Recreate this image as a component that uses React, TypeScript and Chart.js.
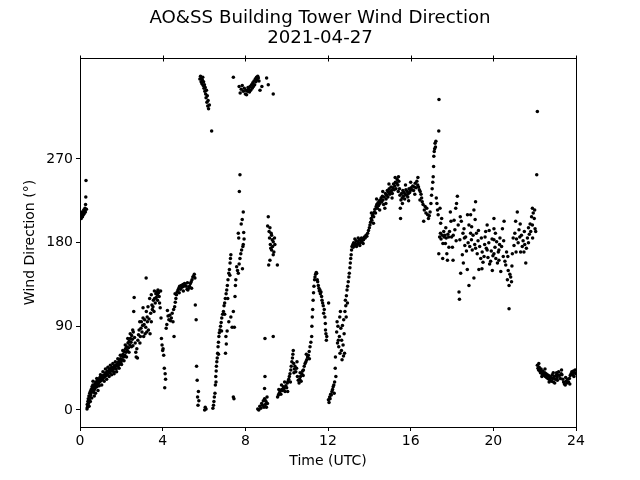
import React, { useEffect, useRef } from 'react';
import { Chart, registerables } from 'chart.js';

Chart.register(...registerables);

const titleLines = ['AO&SS Building Tower Wind Direction', '2021-04-27'];
const xAxisLabel = 'Time (UTC)';
const yAxisLabel = 'Wind Direction (°)';
const xTicks = [0, 4, 8, 12, 16, 20, 24];
const yTicks = [0, 90, 180, 270];

// [hour UTC, wind direction in degrees]
const block00to04 = [
  [0.02,207],[0.04,211],[0.06,206],[0.08,209],[0.1,213],[0.12,208],[0.14,212],[0.16,210],[0.18,215],[0.2,211],[0.22,214],[0.24,217],[0.26,213],[0.27,221],[0.28,229],[0.29,247],[0.31,216],
  [0.34,1],[0.35,6],[0.36,3],[0.38,9],[0.4,12],[0.41,7],[0.43,15],[0.45,11],[0.47,18],[0.48,14],[0.5,20],[0.52,16],[0.54,22],[0.56,19],[0.58,25],[0.6,21],[0.62,27],[0.64,23],[0.66,19],[0.68,26],[0.7,22],[0.72,28],[0.74,24],[0.76,30],[0.78,26],[0.8,29],[0.82,25],[0.84,31],[0.86,28],[0.88,33],[0.9,29],[0.92,32],[0.94,30],[0.96,35],[0.98,31],
  [1.0,34],[1.03,32],[1.06,36],[1.09,33],[1.12,37],[1.15,35],[1.18,38],[1.21,36],[1.24,40],[1.27,37],[1.3,39],[1.33,42],[1.36,38],[1.39,41],[1.42,44],[1.45,40],[1.48,43],[1.51,45],[1.54,42],[1.57,46],[1.6,44],[1.63,41],[1.66,47],[1.69,45],[1.72,48],[1.75,44],[1.78,49],[1.81,47],[1.84,51],[1.87,48],[1.9,53],[1.93,50],[1.96,55],[1.99,52],
  [2.02,58],[2.05,54],[2.08,60],[2.11,57],[2.14,63],[2.17,59],[2.2,66],[2.23,62],[2.26,68],[2.29,64],[2.32,72],[2.35,67],[2.38,74],[2.41,70],[2.44,77],[2.47,73],[2.5,80],[2.53,76],[2.56,69],[2.58,84],[2.6,106],[2.62,121],[2.64,78],[2.67,72],[2.7,62],[2.72,57],[2.75,66],[2.78,56],[2.8,75],[2.83,81],[2.86,86],[2.89,95],[2.92,79],[2.95,88],[2.97,95],
  [3.0,84],[3.03,91],[3.05,99],[3.08,79],[3.1,92],[3.13,97],[3.15,82],[3.18,89],[3.2,142],[3.21,106],[3.23,84],[3.26,95],[3.29,111],[3.31,86],[3.34,98],[3.37,120],[3.39,82],[3.42,104],[3.45,95],[3.48,113],[3.5,108],[3.53,111],[3.55,118],[3.58,106],[3.61,120],[3.64,115],[3.67,125],[3.69,121],[3.72,127],[3.75,124],[3.77,129],[3.8,126],[3.83,122],[3.85,115],[3.88,110],[3.92,99],[3.94,77],[3.97,70],
  [4.0,64],[4.02,66],[4.05,59],[4.08,45],[4.1,24],[4.12,39],[4.14,33],
  [0.44,4],[0.5,9],[0.57,13],[0.63,31],[0.69,15],[0.75,18],[0.81,34],[0.87,21],[0.93,26],[0.99,38],[1.05,27],[1.11,41],[1.17,31],[1.23,44],[1.29,33],[1.35,46],[1.41,36],[1.47,48],[1.53,38],[1.59,50],[1.65,39],[1.71,52],[1.77,41],[1.83,55],[1.89,45],[1.95,59],[2.01,49],[2.07,64],[2.13,53],[2.19,70],[2.25,57],[2.31,77],[2.37,62],[2.43,82],[2.49,68],[2.55,86],
  [2.9,72],[3.05,110],[3.25,100],[3.45,124],[3.6,128],[3.75,118],[3.9,128],
];

const block04to08 = [
  [4.17,88],[4.2,92],[4.23,107],[4.26,101],[4.3,97],[4.34,102],[4.38,96],[4.42,99],[4.46,104],[4.5,95],[4.53,108],[4.55,79],[4.58,111],[4.61,116],[4.64,120],[4.67,124],[4.7,127],[4.74,129],[4.78,131],[4.82,133],[4.86,130],[4.9,134],[4.94,132],[4.98,135],
  [5.02,133],[5.06,136],[5.1,134],[5.14,133],[5.18,130],[5.22,129],[5.26,131],[5.3,133],[5.34,136],[5.38,138],[5.42,140],[5.46,143],[5.5,144],[5.53,146],[5.56,142],[5.58,113],[5.62,97],[5.64,47],[5.67,32],[5.69,14],[5.71,5],[5.73,20],[5.75,10],
  [4.6,125],[4.8,126],[5.0,128],[5.2,137],[5.4,131],
  [5.8,356],[5.83,359],[5.86,353],[5.88,357],[5.9,351],[5.92,355],[5.94,358],[5.96,349],[5.98,353],[6.0,346],[6.02,350],[6.04,343],[6.06,347],[6.08,340],[6.1,336],[6.12,344],[6.14,331],[6.16,338],[6.18,327],[6.2,333],[6.22,324],[6.26,328],[6.37,300],
  [6.03,0],[6.06,3],[6.1,1],[6.43,2],[6.46,5],[6.48,9],
  [6.5,14],[6.53,18],[6.55,27],[6.57,36],[6.59,42],[6.6,47],[6.62,52],[6.64,56],[6.66,61],[6.68,68],[6.7,73],[6.72,79],[6.74,83],[6.77,86],[6.8,90],[6.83,94],[6.86,99],[6.9,103],[6.94,106],[6.97,112],
  [7.0,115],[7.03,120],[7.07,125],[7.1,129],[7.13,134],[7.16,140],[7.2,147],[7.23,151],[7.26,158],[7.28,163],[7.3,167],
  [6.58,30],[6.7,60],[6.85,85],[7.0,103],[7.15,120],[7.25,145],
  [7.04,61],[7.06,79],[7.08,71],[7.12,85],[7.2,95],[7.3,100],[7.36,89],[7.42,106],[7.42,14],[7.45,12],[7.47,89],[7.5,122],[7.52,134],[7.54,140],[7.58,154],[7.62,150],[7.66,147],[7.7,157],[7.74,163],[7.78,168],[7.82,172],[7.86,152],[7.88,176],[7.9,178],
  [7.66,190],[7.68,185],[7.71,235],[7.74,253],[7.8,200],[7.85,205],[7.9,213],[7.92,191],[7.94,184],[7.42,358],
  [7.7,348],[7.75,341],[7.8,345],[7.85,349],[7.9,343],[7.95,346],
];

const block08to12 = [
  [8.0,340],[8.03,344],[8.06,339],[8.1,343],[8.13,347],[8.16,345],[8.2,342],[8.23,348],[8.26,344],[8.3,350],[8.33,346],[8.36,352],[8.39,348],[8.42,354],[8.45,350],[8.48,356],[8.51,353],[8.54,358],[8.57,355],[8.6,359],[8.63,357],[8.66,354],[8.71,344],[8.8,348],[9.03,357],[9.11,350],[9.35,340],
  [8.6,1],[8.65,0],[8.7,4],[8.75,2],[8.79,7],[8.83,5],[8.87,10],[8.9,3],[8.93,12],[8.95,11],[8.97,6],[9.0,9],[9.02,3],[9.05,14],[9.07,7],[8.93,23],[8.95,36],[8.95,77],[9.35,79],
  [9.08,198],[9.11,208],[9.13,156],[9.15,192],[9.17,185],[9.19,196],[9.19,161],[9.21,178],[9.23,174],[9.25,190],[9.27,188],[9.27,172],[9.3,183],[9.32,176],[9.35,181],[9.35,167],[9.38,170],[9.41,185],[9.43,178],[9.55,156],
  [9.56,14],[9.6,16],[9.64,18],[9.68,20],[9.72,17],[9.76,22],[9.8,21],[9.84,25],[9.88,23],[9.92,20],[9.96,26],
  [10.0,24],[10.03,29],[10.07,31],[10.1,33],[10.13,36],[10.16,39],[10.2,43],[10.22,47],[10.25,52],[10.28,56],[10.3,60],[10.32,64],[10.34,50],[10.37,44],[10.4,47],[10.44,41],[10.48,45],[10.52,36],[10.56,32],[10.6,29],[10.63,33],[10.67,36],[10.7,31],[10.73,39],[10.77,42],[10.81,43],[10.85,47],[10.89,50],[10.93,52],[10.97,54],
  [9.62,22],[9.75,27],[9.9,30],[10.05,20],[10.18,30],[10.35,40],[10.5,52],[10.65,40],[10.8,37],[10.95,60],[11.1,55],
  [11.01,57],[11.05,59],[11.09,63],[11.13,68],[11.17,73],[11.21,79],[11.22,90],[11.24,100],[11.26,108],[11.28,118],[11.3,126],[11.32,133],[11.35,140],[11.37,143],[11.4,146],[11.43,148],[11.45,147],[11.48,140],[11.5,138],[11.53,134],[11.56,131],[11.58,128],[11.61,129],[11.63,125],[11.66,127],[11.69,122],[11.71,118],[11.74,115],[11.77,112],[11.79,104],[11.82,108],[11.85,100],[11.87,93],[11.88,86],[11.9,82],[11.92,75],[11.94,79],
];

const block12to16 = [
  [12.03,115],[12.02,11],[12.05,8],[12.08,14],[12.1,12],[12.13,17],[12.16,16],[12.19,20],[12.22,22],[12.25,25],[12.28,27],[12.32,30],[12.35,45],[12.36,57],[12.38,36],[12.42,84],[12.44,95],[12.46,72],[12.5,75],[12.52,68],[12.55,79],[12.58,61],[12.6,106],[12.62,88],[12.65,64],[12.68,54],[12.7,91],[12.73,70],[12.76,97],[12.78,82],[12.8,61],[12.82,106],[12.84,118],[12.86,112],[12.89,123],[12.92,129],[12.95,133],[12.98,138],
  [12.3,18],[12.48,90],[12.57,100],[12.66,75],[12.75,58],[12.88,100],[12.94,115],
  [13.01,143],[13.03,147],[13.06,153],[13.08,158],[13.1,163],[13.12,167],[13.14,172],[13.16,176],[13.2,178],[13.24,180],[13.28,177],[13.32,179],[13.36,182],[13.4,178],[13.44,181],[13.48,179],[13.52,183],[13.56,180],[13.6,182],[13.64,181],[13.68,184],[13.72,183],[13.76,186],[13.8,185],[13.84,188],[13.88,187],[13.92,190],[13.96,193],
  [13.22,175],[13.3,184],[13.38,176],[13.46,185],[13.54,177],[13.62,185],[13.7,179],
  [14.0,196],[14.03,199],[14.06,202],[14.09,206],[14.12,204],[14.15,209],[14.18,211],[14.21,208],[14.24,213],[14.27,216],[14.3,212],[14.33,219],[14.36,221],[14.39,217],[14.42,223],[14.45,220],[14.48,225],[14.51,222],[14.54,226],[14.57,228],[14.6,224],[14.63,230],[14.66,226],[14.69,221],[14.72,229],[14.75,217],[14.78,233],[14.81,227],[14.84,231],[14.87,236],[14.9,229],[14.93,234],[14.96,238],[14.99,232],
  [15.02,235],[15.05,240],[15.08,236],[15.11,233],[15.14,239],[15.17,243],[15.2,237],[15.23,241],[15.26,245],[15.29,238],[15.32,244],[15.35,248],[15.38,242],[15.41,251],[15.43,246],[15.46,238],[15.48,231],[15.5,217],[15.51,206],[15.53,226],[15.56,233],[15.59,228],[15.62,236],[15.65,230],[15.68,234],[15.71,227],[15.74,232],[15.77,237],[15.8,231],[15.83,235],[15.86,229],[15.89,233],[15.92,238],[15.95,234],[15.98,236],
  [14.1,212],[14.2,201],[14.35,227],[14.5,215],[14.65,235],[14.8,222],[14.95,243],[15.1,228],[15.25,250],[15.4,235],[15.6,222],[15.75,242],[15.9,225],
];

const block16to20 = [
  [16.02,239],[16.06,237],[16.1,241],[16.14,236],[16.18,240],[16.22,244],[16.26,239],[16.3,246],[16.34,242],[16.38,240],[16.42,237],[16.46,235],[16.5,232],[16.53,228],[16.56,224],[16.6,221],[16.63,203],[16.66,215],[16.7,219],[16.74,212],[16.78,217],[16.82,210],[16.86,206],[16.9,209],[16.94,213],[16.98,222],
  [16.0,245],[16.2,232],[16.35,250],[16.45,226],
  [17.01,231],[17.04,238],[17.07,245],[17.09,251],[17.11,262],[17.12,273],[17.14,278],[17.16,281],[17.18,287],[17.2,283],[17.22,289],[17.24,228],[17.27,222],[17.3,215],[17.33,210],[17.36,300],[17.37,334],[17.36,168],[17.4,186],[17.42,217],[17.44,190],[17.47,184],[17.5,206],[17.53,188],[17.56,179],[17.6,192],[17.62,186],[17.65,188],[17.68,179],[17.72,185],[17.75,168],[17.78,161],[17.8,189],[17.84,186],[17.88,192],[17.92,213],[17.95,203],[17.98,186],
  [18.02,175],[18.06,188],[18.1,204],[18.14,194],[18.18,217],[18.22,222],[18.26,230],[18.3,199],[18.34,127],[18.36,119],[18.38,183],[18.42,147],[18.45,203],[18.5,167],[18.53,190],[18.58,195],[18.6,185],[18.62,177],[18.66,186],[18.7,171],[18.74,151],[18.78,180],[18.82,134],[18.82,199],[18.86,176],[18.9,210],[18.9,190],[18.94,183],[18.98,172],
  [19.02,188],[19.06,142],[19.06,215],[19.1,178],[19.14,224],[19.14,174],[19.18,190],[19.22,168],[19.26,182],[19.3,151],[19.34,176],[19.39,163],[19.42,185],[19.46,170],[19.5,159],[19.55,165],[19.58,178],[19.63,192],[19.66,174],[19.7,199],[19.7,172],[19.74,164],[19.78,180],[19.82,157],[19.87,160],[19.9,171],[19.94,184],[19.98,166],
  [17.45,201],[17.55,163],[17.7,196],[17.85,175],[18.05,161],[18.2,182],[18.4,208],[18.55,158],[18.75,210],[18.95,197],[19.12,205],[19.28,193],[19.45,152],[19.6,186],[19.8,193],[19.95,150],
];

const block20to24 = [
  [20.03,206],[20.03,195],[20.03,183],[20.03,168],[20.08,175],[20.12,163],[20.16,181],[20.2,158],[20.24,170],[20.27,172],[20.27,161],[20.32,185],[20.36,149],[20.4,176],[20.44,195],[20.48,165],[20.52,203],[20.56,160],[20.6,156],[20.64,170],[20.68,140],[20.72,150],[20.76,134],[20.76,109],[20.8,146],[20.84,143],[20.88,138],[20.92,168],[20.96,185],
  [21.0,177],[21.04,190],[21.08,203],[21.12,184],[21.16,213],[21.2,180],[21.24,194],[21.28,186],[21.32,170],[21.36,188],[21.4,176],[21.44,182],[21.48,170],[21.52,178],[21.57,158],[21.6,174],[21.65,185],[21.7,196],[21.74,189],[21.78,200],[21.81,192],[21.85,208],[21.89,217],[21.89,199],[21.93,212],[21.98,206],
  [20.1,190],[20.3,178],[20.5,182],[20.7,165],[20.9,155],[21.1,170],[21.3,200],[21.5,192],[21.7,180],[21.9,185],[22.0,215],
  [22.02,195],[22.05,192],[22.1,253],[22.13,321],
  [22.13,48],[22.16,45],[22.19,43],[22.22,46],[22.25,42],[22.28,40],[22.31,44],[22.34,41],[22.37,38],[22.4,42],[22.43,39],[22.46,37],[22.49,40],[22.52,36],[22.55,39],[22.58,35],[22.61,38],[22.64,34],[22.67,37],[22.7,33],[22.73,36],[22.76,32],[22.79,35],[22.82,31],[22.85,38],[22.88,34],[22.91,30],[22.94,36],[22.97,29],
  [23.0,33],[23.03,37],[23.06,40],[23.09,35],[23.12,38],[23.16,41],[23.2,37],[23.24,34],[23.28,39],[23.32,38],[23.36,33],[23.4,30],[23.44,28],[23.48,27],[23.52,31],[23.56,29],[23.6,33],[23.64,30],[23.68,34],[23.72,37],[23.76,39],[23.8,41],[23.84,38],[23.88,42],[23.92,40],[23.96,43],[23.99,39],
  [22.2,50],[22.35,36],[22.5,44],[22.7,30],[22.9,40],[23.1,32],[23.3,43],[23.5,35],[23.7,28],[23.9,36],
];

const allBlocks = [block00to04, block04to08, block08to12, block12to16, block16to20, block20to24];

const FONT = 'DejaVu Sans';

export default function App() {
  const canvasRef = useRef<HTMLCanvasElement | null>(null);

  useEffect(() => {
    const canvas = canvasRef.current;
    if (!canvas) return;

    const points = allBlocks.flat().map(([t, d]) => ({ x: t, y: d }));

    const topFrame = {
      id: 'topFrame',
      afterDraw(chart: any) {
        const { ctx, chartArea, scales } = chart;
        ctx.save();
        ctx.strokeStyle = '#000';
        ctx.lineWidth = 1;
        ctx.beginPath();
        const ty = Math.round(chartArea.top) + 0.5;
        ctx.moveTo(chartArea.left, ty);
        ctx.lineTo(chartArea.right, ty);
        for (const v of xTicks) {
          const px = Math.round(scales.x.getPixelForValue(v)) + 0.5;
          ctx.moveTo(px, ty - 3);
          ctx.lineTo(px, ty + 3);
        }
        ctx.stroke();
        ctx.restore();
      },
    };

    const chart = new Chart(canvas, {
      type: 'scatter',
      data: {
        datasets: [
          {
            data: points,
            backgroundColor: '#000',
            borderColor: '#000',
            borderWidth: 0,
            pointRadius: 1.75,
            pointHoverRadius: 1.75,
            showLine: false,
          },
        ],
      },
      options: {
        animation: false,
        responsive: false,
        events: [],
        layout: { padding: 0 },
        plugins: {
          legend: { display: false },
          tooltip: { enabled: false },
          title: {
            display: true,
            text: titleLines,
            color: '#000',
            font: { family: FONT, size: 18.2, weight: 'normal', lineHeight: 1.1 },
            padding: { top: 8, bottom: 10 },
          },
        },
        scales: {
          x: {
            type: 'linear',
            position: 'bottom',
            min: 0,
            max: 24,
            afterBuildTicks: (s: any) => { s.ticks = xTicks.map((v) => ({ value: v })); },
            afterFit: (s: any) => { s.height = 53; },
            ticks: { color: '#000', font: { family: FONT, size: 14 }, padding: 2, maxRotation: 0, autoSkip: false },
            grid: { display: true, drawOnChartArea: false, drawTicks: true, tickLength: 4, color: '#000', lineWidth: 1 },
            border: { display: true, color: '#000', width: 1 },
            title: { display: true, text: xAxisLabel, color: '#000', font: { family: FONT, size: 14, lineHeight: 1.2 }, padding: { top: 0, bottom: 10.5 } },
          },
          y: {
            type: 'linear',
            position: 'left',
            min: -18.3,
            max: 378.6,
            afterBuildTicks: (s: any) => { s.ticks = yTicks.map((v) => ({ value: v })); },
            afterFit: (s: any) => { s.width = 80; },
            ticks: { color: '#000', font: { family: FONT, size: 14 }, padding: 3, autoSkip: false },
            grid: { display: true, drawOnChartArea: false, drawTicks: true, tickLength: 4, color: '#000', lineWidth: 1 },
            border: { display: true, color: '#000', width: 1 },
            title: { display: true, text: yAxisLabel, color: '#000', font: { family: FONT, size: 14, lineHeight: 1.2 }, padding: { top: 22, bottom: 0 } },
          },
          y2: {
            type: 'linear',
            position: 'right',
            min: 0,
            max: 1,
            afterFit: (s: any) => { s.width = 64; },
            ticks: { display: false },
            grid: { display: false, drawTicks: false },
            border: { display: true, color: '#000', width: 1 },
          },
        },
      } as any,
      plugins: [topFrame],
    });

    return () => chart.destroy();
  }, []);

  return (
    <div style={{ position: 'fixed', left: 0, top: 0, width: 640, height: 480, background: '#fff' }}>
      <canvas ref={canvasRef} width={640} height={480} style={{ display: 'block', width: 640, height: 480 }} />
    </div>
  );
}
